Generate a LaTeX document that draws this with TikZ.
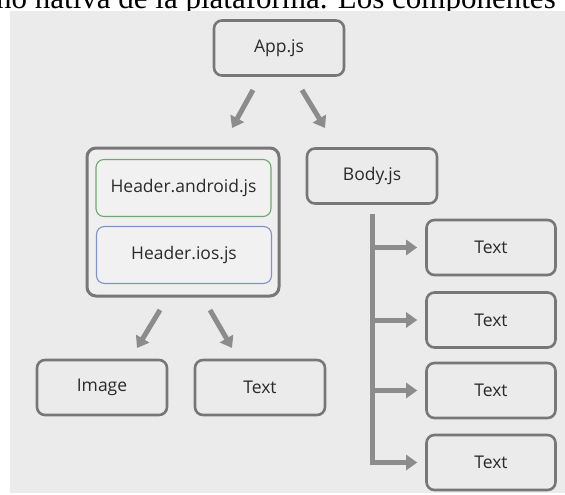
\documentclass[tikz,border=0pt]{standalone}
\usepackage{fontspec}
\setmainfont{Open Sans}
\newfontfamily\topserif{Liberation Serif}
\usetikzlibrary{arrows.meta}
\definecolor{panel}{HTML}{EBEBEB}
\definecolor{edge}{HTML}{777777}
\definecolor{arrowc}{HTML}{8C8C8C}
\definecolor{txt}{HTML}{2A2A2A}
\definecolor{grn}{HTML}{6FA86F}
\definecolor{blu}{HTML}{7F93C8}
\tikzset{
  lbl/.style={text=txt, font=\fontsize{17.5}{20}\selectfont},
  box/.style={draw=edge, line width=2.6pt, rounded corners=8pt, fill=panel,
    minimum width=130pt, minimum height=55pt, inner sep=0pt, lbl},
  subbox/.style={draw=#1, line width=1.1pt, rounded corners=8pt, fill=panel!70!white,
    minimum width=175pt, minimum height=57pt, inner sep=0pt, lbl},
  group/.style={draw=edge, line width=3pt, rounded corners=9pt, fill=panel!80!white,
    minimum width=192pt, minimum height=148pt, inner sep=0pt},
  arr/.style={draw=arrowc, line width=5pt, -{Triangle[length=11pt,width=15pt]}},
  trunk/.style={draw=arrowc, line width=5pt},
}
\begin{document}
\begin{tikzpicture}[x=1pt,y=-1pt]
\useasboundingbox (0,0) rectangle (565,495);
\fill[white] (0,0) rectangle (565,495);
% cut-off line of text above the figure
\begin{scope}
\clip (0,0) rectangle (565,11);
\node[anchor=base west, inner sep=0pt, font=\topserif\fontsize{31}{36}\selectfont] (toptext) at (-4,8.5) {no nativa de la plataforma. Los componentes};
\end{scope}
\fill[panel] (10,11) rectangle (565,493);

\node[box] (app) at (279,48) {App.js};
\node[group] (hdr) at (183,222) {};
\node[subbox=grn] (android) at (183.5,188) {Header.android.js};
\node[subbox=blu] (ios) at (184,255) {Header.ios.js};
\node[box] (body) at (372,176) {Body.js};
\node[box] (image) at (102,387.5) {Image};
\node[box] (text0) at (260,387.5) {Text};
\node[box, minimum width=129pt] (text1) at (491,247.5) {Text};
\node[box, minimum width=129pt] (text2) at (491,320) {Text};
\node[box, minimum width=129pt] (text3) at (491,390.5) {Text};
\node[box, minimum width=129pt] (text4) at (491,462.5) {Text};

\coordinate (a1s) at (253,90);
\coordinate (a1e) at (232,128);
\coordinate (a2s) at (302,90);
\coordinate (a2e) at (325,128);
\coordinate (b1s) at (160,310);
\coordinate (b1e) at (137,348);
\coordinate (b2s) at (210,310);
\coordinate (b2e) at (232,348);
\draw[arr] (a1s) -- (a1e);
\draw[arr] (a2s) -- (a2e);
\draw[arr] (b1s) -- (b1e);
\draw[arr] (b2s) -- (b2e);

\coordinate (ttop) at (372,214);
\coordinate (tbot) at (372,464.5);
\draw[trunk] (ttop) -- (tbot);
\draw[arr] (ttop |- text1.west) -- ([xshift=-8pt]text1.west);
\draw[arr] (ttop |- text2.west) -- ([xshift=-8pt]text2.west);
\draw[arr] (ttop |- text3.west) -- ([xshift=-8pt]text3.west);
\draw[arr] ([xshift=-2.5pt]ttop |- text4.west) -- ([xshift=-8pt]text4.west);
\end{tikzpicture}
\end{document}
